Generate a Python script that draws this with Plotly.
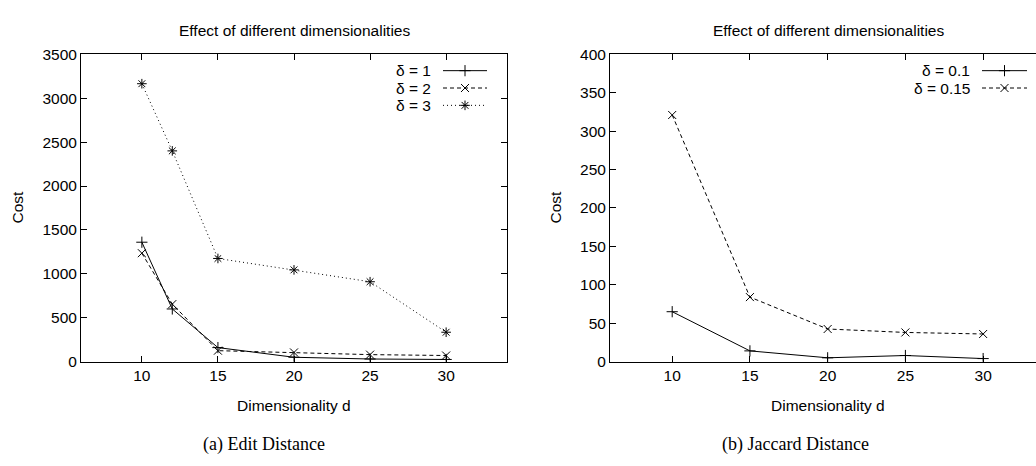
import plotly.graph_objects as go

# ---------------- data ----------------
dims_edit = [10, 12, 15, 20, 25, 30]
edit_d1 = [1360, 600, 160, 50, 30, 25]
edit_d2 = [1235, 655, 125, 105, 80, 70]
edit_d3 = [3165, 2400, 1175, 1045, 910, 335]
edit_names = ["δ = 1", "δ = 2", "δ = 3"]

dims_jac = [10, 15, 20, 25, 30]
jac_d01 = [65, 14, 5, 8, 4]
jac_d015 = [321, 84, 42.5, 38, 36]
jac_names = ["δ = 0.1", "δ = 0.15"]

x_ticks = [10, 15, 20, 25, 30]
edit_y_ticks = [0, 500, 1000, 1500, 2000, 2500, 3000, 3500]
jac_y_ticks = [0, 50, 100, 150, 200, 250, 300, 350, 400]

title_text = "Effect of different dimensionalities"
x_title = "Dimensionality d"
y_title = "Cost"
captions = ["(a) Edit Distance", "(b) Jaccard Distance"]

# ---------------- style ----------------
W, H = 1036, 466
FONT = "Liberation Sans, Arial, sans-serif"
FS = 15.5
MS = 8
styles = [
    dict(symbol="cross-thin-open", dash="solid"),
    dict(symbol="x-thin-open", dash="4px,3px"),
    dict(symbol="asterisk-open", dash="1px,3px"),
]

fig = go.Figure()

def add_series(x, y, st, xa, ya):
    fig.add_trace(go.Scatter(
        x=x, y=y, mode="lines+markers", xaxis=xa, yaxis=ya, showlegend=False,
        line=dict(color="black", width=1, dash=st["dash"]),
        marker=dict(symbol=st["symbol"], size=MS, color="black",
                    line=dict(color="black", width=1)),
    ))

for ys, st in zip([edit_d1, edit_d2, edit_d3], styles):
    add_series(dims_edit, ys, st, "x", "y")
for ys, st in zip([jac_d01, jac_d015], styles):
    add_series(dims_jac, ys, st, "x2", "y2")

# legend samples on a full-page pixel-coordinate axis pair
def add_key(names, text_right, line_x0, line_x1, rows):
    for name, st, ry in zip(names, styles, rows):
        fig.add_trace(go.Scatter(
            x=[line_x0, line_x1], y=[ry, ry], mode="lines", xaxis="x3", yaxis="y3",
            showlegend=False, hoverinfo="skip",
            line=dict(color="black", width=1, dash=st["dash"])))
        fig.add_trace(go.Scatter(
            x=[(line_x0 + line_x1) / 2], y=[ry], mode="markers", xaxis="x3", yaxis="y3",
            showlegend=False, hoverinfo="skip",
            marker=dict(symbol=st["symbol"], size=MS, color="black",
                        line=dict(color="black", width=1))))
        fig.add_annotation(x=text_right, y=ry, xref="x3", yref="y3", text=name,
                           showarrow=False, xanchor="right", yanchor="middle",
                           font=dict(family=FONT, size=FS, color="black"))

add_key(edit_names, 433, 443, 487, [64, 82, 100])
add_key(jac_names, 972, 982, 1027, [64, 82])

ydom = [(H - 366) / H, (H - 47) / H]
axis_common = dict(showline=True, linecolor="black", linewidth=1, ticks="inside",
                   ticklen=6, tickcolor="black", tickwidth=1, showgrid=False,
                   zeroline=False, tickfont=dict(family=FONT, size=FS, color="black"))

fig.update_layout(
    width=W, height=H, margin=dict(l=0, r=0, t=0, b=0),
    paper_bgcolor="white", plot_bgcolor="rgba(0,0,0,0)",
    xaxis=dict(domain=[81 / W, 507 / W], range=[6, 34], tickvals=x_ticks,
               mirror="allticks", anchor="y", **axis_common),
    yaxis=dict(domain=ydom, range=[0, 3500], tickvals=edit_y_ticks,
               mirror="allticks", anchor="x", **axis_common),
    xaxis2=dict(domain=[610 / W, 1.0], range=[6, 33.4], tickvals=x_ticks,
                mirror="allticks", anchor="y2", **axis_common),
    yaxis2=dict(domain=ydom, range=[0, 400], tickvals=jac_y_ticks,
                mirror=False, anchor="x2", **axis_common),
    xaxis3=dict(domain=[0, 1], range=[0, W], visible=False, anchor="y3",
                fixedrange=True),
    yaxis3=dict(domain=[0, 1], range=[H, 0], visible=False, anchor="x3",
                fixedrange=True),
)

# titles, axis titles and captions
def ann(x, y, text, size=FS, family=FONT, angle=0):
    fig.add_annotation(x=x / W, y=1 - y / H, xref="paper", yref="paper", text=text,
                       showarrow=False, xanchor="center", yanchor="middle",
                       textangle=angle, font=dict(family=family, size=size, color="black"))

ann(294, 22, title_text)
ann(828, 22, title_text)
ann(294, 411, x_title)
ann(828, 411, x_title)
ann(17, 206, y_title, angle=-90)
ann(555, 206, y_title, angle=-90)
ann(264, 452, captions[0], size=18, family="Liberation Serif, Times New Roman, serif")
ann(795, 452, captions[1], size=18, family="Liberation Serif, Times New Roman, serif")

fig.write_html("out.html")
